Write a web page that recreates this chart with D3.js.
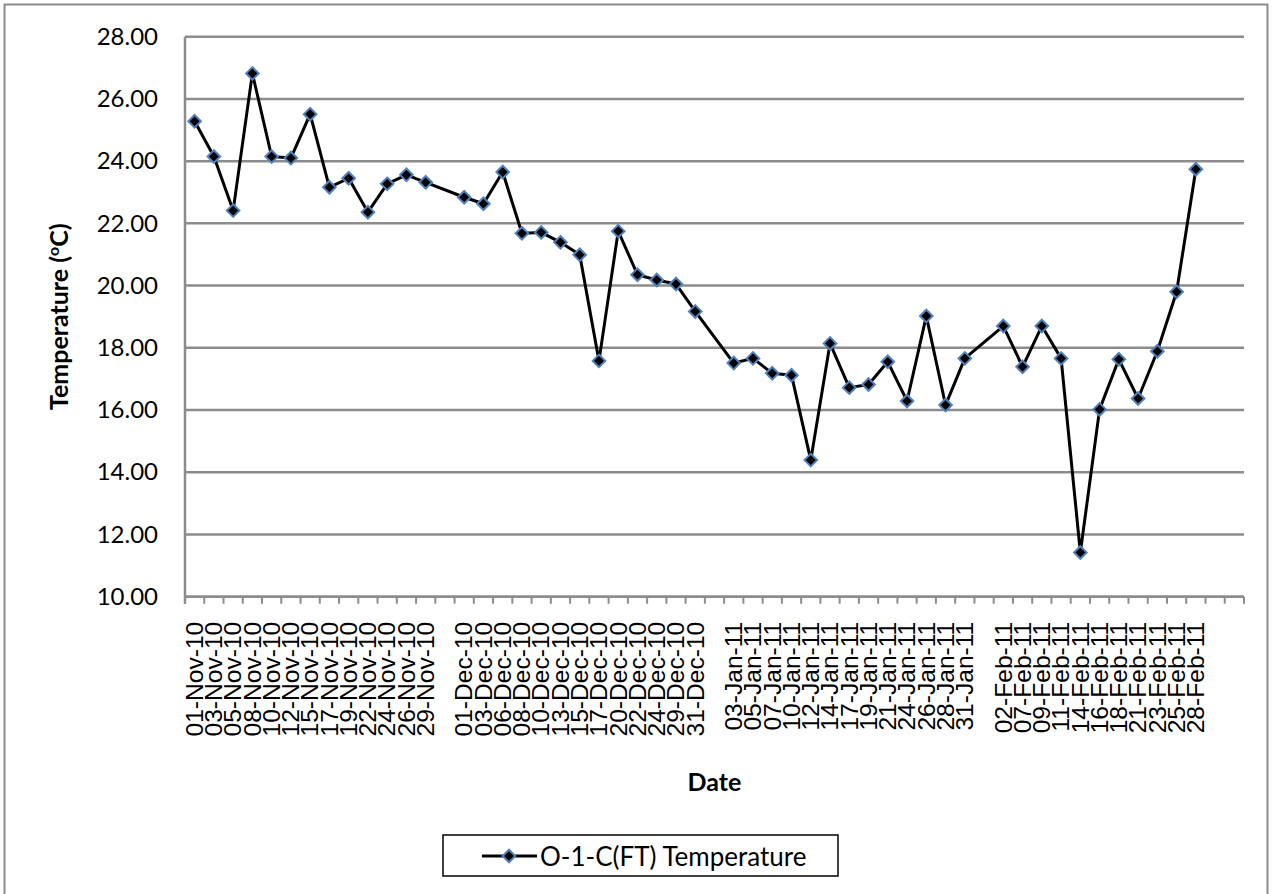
<!DOCTYPE html>
<html>
<head>
<meta charset="utf-8">
<script src="https://cdn.jsdelivr.net/npm/d3@7"></script>
<style>
html,body{margin:0;padding:0;background:#fff;}
svg{display:block;}
</style>
</head>
<body>
<svg id="chart" width="1272" height="894"></svg>
<script>
// ---- data ----
const dates = [
  "01-Nov-10","03-Nov-10","05-Nov-10","08-Nov-10","10-Nov-10","12-Nov-10","15-Nov-10","17-Nov-10","19-Nov-10","22-Nov-10","24-Nov-10","26-Nov-10","29-Nov-10",
  "",
  "01-Dec-10","03-Dec-10","06-Dec-10","08-Dec-10","10-Dec-10","13-Dec-10","15-Dec-10","17-Dec-10","20-Dec-10","22-Dec-10","24-Dec-10","29-Dec-10","31-Dec-10",
  "",
  "03-Jan-11","05-Jan-11","07-Jan-11","10-Jan-11","12-Jan-11","14-Jan-11","17-Jan-11","19-Jan-11","21-Jan-11","24-Jan-11","26-Jan-11","28-Jan-11","31-Jan-11",
  "",
  "02-Feb-11","07-Feb-11","09-Feb-11","11-Feb-11","14-Feb-11","16-Feb-11","18-Feb-11","21-Feb-11","23-Feb-11","25-Feb-11","28-Feb-11",
  "",""
];
const temperature = [
  25.28,24.15,22.41,26.82,24.15,24.10,25.51,23.16,23.45,22.36,23.27,23.56,23.32,
  null,
  22.84,22.63,23.65,21.68,21.71,21.39,20.99,17.58,21.75,20.35,20.18,20.05,19.17,
  null,
  17.51,17.66,17.18,17.12,14.39,18.14,16.72,16.82,17.55,16.29,19.02,16.16,17.66,
  null,
  18.70,17.39,18.70,17.66,11.42,16.02,17.63,16.37,17.89,19.80,23.74,
  null,null
];
const yTicks = [10,12,14,16,18,20,22,24,26,28];
const seriesName = "O-1-C(FT) Temperature";
const xTitle = "Date";
const yTitle = "Temperature (";

// ---- layout ----
const svg = d3.select("#chart");
const L = 185, R = 1244, T = 36.7, B = 596.7;
const grid = "#8c8c8c";
const calibri = "Lato, 'Open Sans', sans-serif";

svg.append("rect").attr("x",4.5).attr("y",4.5).attr("width",1263).attr("height",900)
  .attr("fill","#fff").attr("stroke","#8c8c8c").attr("stroke-width",2);

const x = d3.scaleBand().domain(d3.range(dates.length)).range([L,R]).padding(0);
const y = d3.scaleLinear().domain([10,28]).range([B,T]);

// gridlines
svg.append("g").selectAll("line").data(yTicks).join("line")
  .attr("x1",L).attr("x2",R).attr("y1",d=>y(d)).attr("y2",d=>y(d))
  .attr("stroke",grid).attr("stroke-width",2.5);

// y axis
const yAxis = svg.append("g").attr("transform",`translate(${L},0)`)
  .call(d3.axisLeft(y).tickValues(yTicks).tickFormat(d3.format(".2f")).tickSize(0).tickPadding(27));
yAxis.select(".domain").remove();
yAxis.selectAll("text").attr("font-family",calibri).attr("font-size",24).attr("fill","#000");
svg.append("line").attr("x1",L).attr("x2",L).attr("y1",T).attr("y2",B+7)
  .attr("stroke",grid).attr("stroke-width",2.5);

// x axis
svg.append("line").attr("x1",L).attr("x2",R).attr("y1",B).attr("y2",B)
  .attr("stroke",grid).attr("stroke-width",2.5);
const bounds = d3.range(dates.length).map(i=>x(i)).concat([x(dates.length-1)+x.bandwidth()]);
svg.append("g").selectAll("line").data(bounds).join("line")
  .attr("x1",d=>d).attr("x2",d=>d).attr("y1",B).attr("y2",B+7)
  .attr("stroke",grid).attr("stroke-width",2);

const xAxis = svg.append("g").attr("transform",`translate(0,${B})`)
  .call(d3.axisBottom(x).tickFormat(i=>dates[i]).tickSize(0));
xAxis.select(".domain").remove();
xAxis.selectAll("text")
  .attr("font-family","'Liberation Sans', Arial, sans-serif").attr("font-size",23)
  .attr("fill","#000")
  .attr("text-anchor","end").attr("dy","0.36em").attr("y",0).attr("x",0)
  .attr("transform","translate(0,25) rotate(-90) scale(1.07,1)");

// titles
svg.append("text").attr("x",(L+R)/2).attr("y",791).attr("text-anchor","middle")
  .attr("font-family",calibri).attr("font-weight","bold").attr("font-size",25).text(xTitle);
const yt = svg.append("text").attr("transform",`translate(68,${(T+B)/2}) rotate(-90)`)
  .attr("text-anchor","middle").attr("font-family",calibri).attr("font-weight","bold").attr("font-size",25);
yt.append("tspan").text(yTitle);
yt.append("tspan").attr("font-size",16).attr("dy",-9).text("o");
yt.append("tspan").attr("dy",9).text("C)");

// line
const pts = temperature.map((v,i)=>({i,v})).filter(d=>d.v!==null);
const line = d3.line().x(d=>x(d.i)+x.bandwidth()/2).y(d=>y(d.v));
svg.append("path").datum(pts).attr("d",line).attr("fill","none")
  .attr("stroke","#000").attr("stroke-width",3).attr("stroke-linejoin","round");

function diamondPath(r){return `M0,${-r}L${r},0L0,${r}L${-r},0Z`;}
svg.append("g").selectAll("path").data(pts).join("path")
  .attr("transform",d=>`translate(${x(d.i)+x.bandwidth()/2},${y(d.v)})`)
  .attr("d",diamondPath(6.3)).attr("fill","#000").attr("stroke","#4f81bd").attr("stroke-width",2);

// legend
const lg = svg.append("g");
lg.append("rect").attr("x",443).attr("y",835).attr("width",395).attr("height",41)
  .attr("fill","#fff").attr("stroke","#000").attr("stroke-width",1.5);
lg.append("line").attr("x1",482).attr("x2",537).attr("y1",856).attr("y2",856)
  .attr("stroke","#000").attr("stroke-width",3);
lg.append("path").attr("transform","translate(509,856)").attr("d",diamondPath(6.3))
  .attr("fill","#000").attr("stroke","#4f81bd").attr("stroke-width",2);
lg.append("text").attr("x",540).attr("y",857).attr("dy","0.35em")
  .attr("font-family",calibri).attr("font-size",26).attr("fill","#000").text(seriesName);
</script>
</body>
</html>
